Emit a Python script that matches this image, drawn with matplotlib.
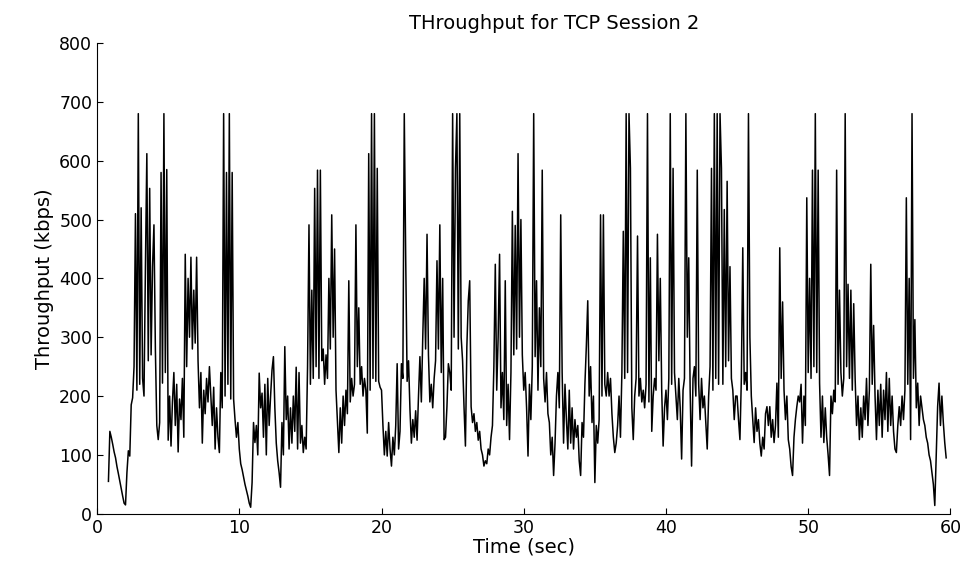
import numpy as np
import matplotlib
matplotlib.use("Agg")
import matplotlib.pyplot as plt

# throughput samples (kbps), one every 0.1 s starting at t = 0.8 s
throughput = [
    55, 140,                                                   # 0.8-0.9
    130, 118, 105, 95, 80, 68, 55, 42, 30, 18,                 # 1
    15, 70, 107, 98, 185, 197, 250, 510, 210, 680,             # 2
    220, 520, 230, 200, 420, 612, 260, 553, 270, 420,          # 3
    491, 280, 150, 126, 155, 580, 222, 680, 240, 585,          # 4
    125, 200, 115, 190, 240, 150, 220, 105, 195, 160,          # 5
    230, 130, 441, 250, 400, 300, 436, 280, 380, 290,          # 6
    436, 260, 180, 240, 120, 210, 170, 230, 190, 250,          # 7
    200, 150, 215, 110, 180, 130, 104, 240, 180, 680,          # 8
    200, 580, 220, 680, 195, 580, 195, 160, 130, 155,          # 9
    110, 85, 75, 62, 50, 40, 30, 18, 11, 53,                   # 10
    155, 121, 150, 100, 239, 180, 205, 130, 220, 100,          # 11
    230, 150, 200, 244, 267, 180, 120, 90, 70, 45,             # 12
    155, 100, 284, 160, 200, 110, 180, 120, 200, 140,          # 13
    249, 110, 240, 120, 150, 104, 130, 110, 250, 491,          # 14
    220, 380, 230, 553, 250, 584, 230, 584, 260, 280,          # 15
    220, 270, 230, 400, 280, 508, 300, 450, 210, 155,          # 16
    104, 180, 120, 200, 150, 210, 170, 396, 190, 230,          # 17
    200, 220, 491, 250, 350, 220, 250, 200, 230, 210,          # 18
    137, 612, 210, 680, 230, 680, 225, 587, 225, 215,          # 19
    210, 150, 100, 140, 98, 155, 110, 81, 130, 100,            # 20
    150, 255, 110, 140, 255, 230, 680, 435, 225, 260,          # 21
    177, 120, 160, 130, 175, 125, 200, 267, 190, 300,          # 22
    400, 280, 475, 270, 190, 220, 180, 230, 260, 430,          # 23
    280, 491, 240, 400, 126, 130, 182, 255, 240, 210,          # 24
    680, 300, 587, 680, 280, 680, 300, 260, 182, 115,          # 25
    284, 362, 396, 182, 155, 170, 140, 155, 125, 140,          # 26
    110, 100, 81, 90, 85, 110, 100, 130, 150, 250,             # 27
    424, 210, 300, 441, 180, 240, 160, 396, 150, 220,          # 28
    126, 240, 514, 270, 490, 280, 612, 300, 500, 270,          # 29
    210, 240, 180, 98, 220, 160, 250, 680, 267, 396,           # 30
    210, 350, 250, 584, 230, 190, 240, 170, 155, 100,          # 31
    130, 65, 120, 200, 240, 180, 508, 240, 120, 220,           # 32
    160, 110, 210, 120, 180, 110, 160, 130, 150, 90,           # 33
    65, 155, 130, 220, 284, 362, 200, 250, 155, 200,           # 34
    53, 150, 120, 160, 508, 200, 508, 220, 200, 240,           # 35
    200, 230, 170, 130, 104, 120, 150, 200, 130, 240,          # 36
    480, 230, 680, 240, 680, 587, 180, 126, 200, 230,          # 37
    472, 200, 230, 190, 210, 180, 220, 680, 190, 435,          # 38
    140, 200, 230, 210, 475, 260, 400, 210, 115, 180,          # 39
    210, 160, 230, 680, 220, 587, 240, 200, 160, 230,          # 40
    180, 93, 210, 230, 680, 300, 435, 210, 81, 230,            # 41
    250, 200, 584, 220, 160, 230, 180, 200, 155, 110,          # 42
    200, 250, 587, 210, 680, 230, 680, 220, 680, 587,          # 43
    220, 517, 250, 565, 260, 420, 230, 210, 160, 200,          # 44
    200, 160, 126, 230, 452, 220, 240, 210, 680, 300,          # 45
    200, 160, 121, 180, 140, 160, 120, 98, 130, 110,           # 46
    170, 182, 150, 182, 130, 160, 121, 150, 222, 130,          # 47
    452, 230, 360, 210, 160, 200, 126, 110, 80, 65,            # 48
    130, 160, 182, 200, 190, 220, 120, 200, 150, 537,          # 49
    240, 400, 230, 584, 250, 680, 240, 584, 222, 130,          # 50
    200, 121, 180, 130, 100, 65, 200, 170, 210, 190,           # 51
    584, 220, 380, 240, 200, 230, 680, 250, 390, 230,          # 52
    380, 210, 357, 230, 150, 200, 126, 180, 130, 200,          # 53
    160, 230, 150, 210, 424, 220, 320, 200, 126, 210,          # 54
    150, 220, 130, 210, 160, 240, 140, 230, 150, 200,          # 55
    140, 110, 104, 150, 182, 150, 200, 160, 210, 537,          # 56
    220, 400, 126, 680, 230, 330, 180, 222, 150, 200,          # 57
    180, 160, 150, 130, 120, 100, 90, 70, 50, 14,              # 58
    100, 182, 222, 150, 200, 155, 121, 95,                     # 59
]
t = np.arange(8, 8 + len(throughput)) / 10.0

xticks = [0, 10, 20, 30, 40, 50, 60]
yticks = [0, 100, 200, 300, 400, 500, 600, 700, 800]

fig = plt.figure(figsize=(9.61, 5.74), dpi=100)
ax = fig.add_axes([0.101, 0.105, 0.888, 0.82])
ax.plot(t, throughput, color='black', lw=1.1)

ax.set_xlim(0, 60)
ax.set_ylim(0, 800)
ax.set_xticks(xticks)
ax.set_yticks(yticks)
ax.tick_params(direction='in', labelsize=12.5, length=4)
ax.spines['top'].set_visible(False)
ax.spines['right'].set_visible(False)

# title sits a little right of centre in the original
ax.text(0.536, 1.022, 'THroughput for TCP Session 2', transform=ax.transAxes,
        ha='center', va='bottom', fontsize=14)
ax.set_xlabel('Time (sec)', fontsize=14, labelpad=1)
ax.set_ylabel('Throughput (kbps)', fontsize=14, labelpad=4)

plt.savefig('out.png', dpi=100)
